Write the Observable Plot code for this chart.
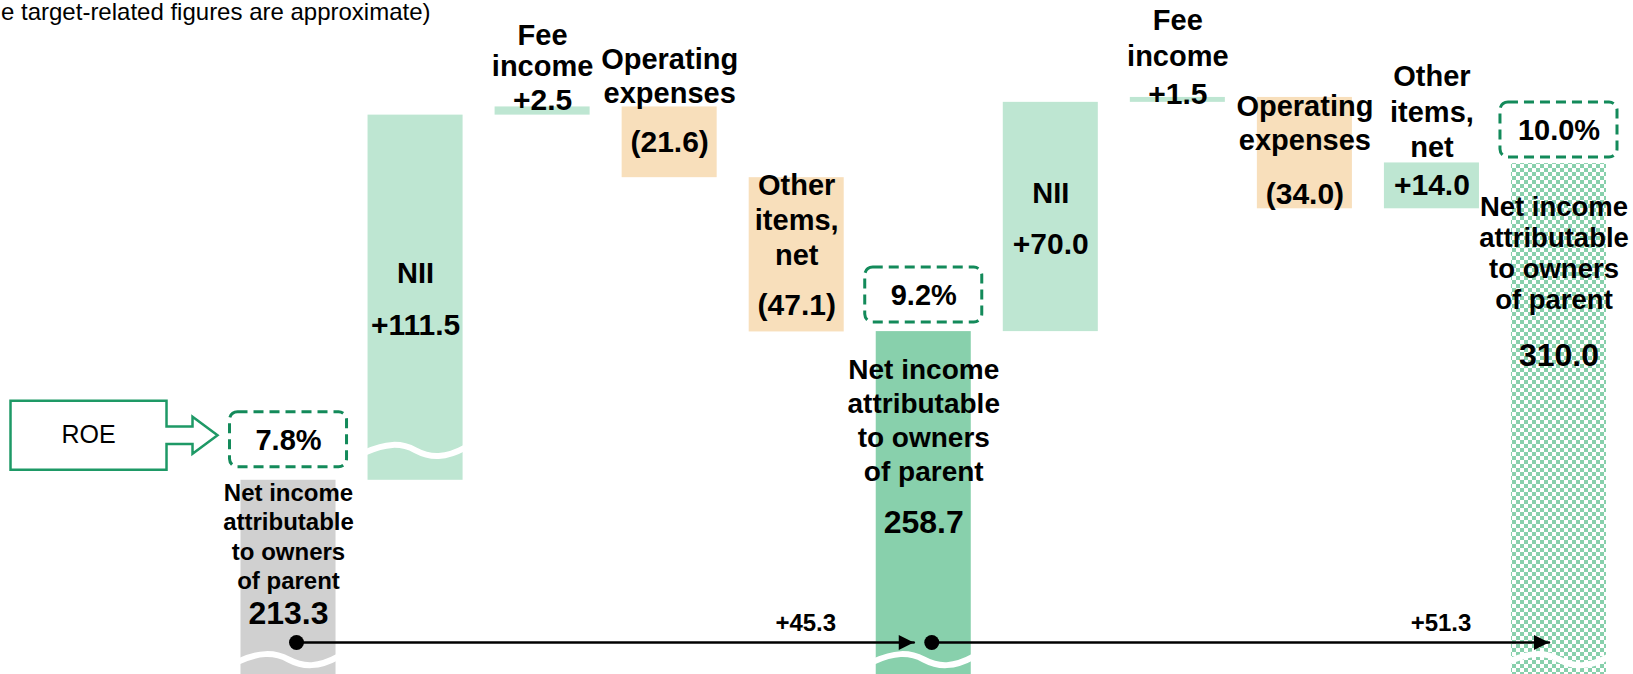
<!DOCTYPE html>
<html>
<head>
<meta charset="utf-8">
<script src="https://cdn.jsdelivr.net/npm/d3@7"></script>
<script src="https://cdn.jsdelivr.net/npm/@observablehq/plot@0.6"></script>
<style>
html, body { margin: 0; padding: 0; background: #fff; }
#wrap { position: relative; width: 1633px; height: 674px; overflow: hidden; }
#sub { position: absolute; left: 1px; top: 0; font-family: "Liberation Sans", Arial, sans-serif; font-size: 24px; line-height: 24px; color: #000; white-space: nowrap; pointer-events: none; }
</style>
</head>
<body>
<svg width="0" height="0" style="position:absolute">
  <defs>
    <pattern id="checker" width="8" height="8" patternUnits="userSpaceOnUse">
      <rect width="8" height="8" fill="#ffffff"></rect>
      <rect width="4" height="4" fill="#88d0ac"></rect>
      <rect x="4" y="4" width="4" height="4" fill="#88d0ac"></rect>
    </pattern>
  </defs>
</svg>
<div id="wrap"><div id="chart"></div><div id="sub"></div></div>
<script>
// ---------- data ----------
const subtitle = "e target-related figures are approximate)";
const categories = ["base", "nii1", "fee1", "opex1", "other1", "mid", "nii2", "fee2", "opex2", "other2", "target"];
const kinds = ["total", "delta", "delta", "delta", "delta", "total", "delta", "delta", "delta", "delta", "total"];
const values = [213.3, 111.5, 2.5, -21.6, -47.1, 258.7, 70.0, 1.5, -34.0, 14.0, 310.0];
const valueLabels = ["213.3", "+111.5", "+2.5", "(21.6)", "(47.1)", "258.7", "+70.0", "+1.5", "(34.0)", "+14.0", "310.0"];
const nameLabels = [
  ["Net income", "attributable", "to owners", "of parent"],
  ["NII"],
  ["Fee", "income"],
  ["Operating", "expenses"],
  ["Other", "items,", "net"],
  ["Net income", "attributable", "to owners", "of parent"],
  ["NII"],
  ["Fee", "income"],
  ["Operating", "expenses"],
  ["Other", "items,", "net"],
  ["Net income", "attributable", "to owners", "of parent"]
];
const roeLabels = ["7.8%", "9.2%", "10.0%"];
const growthLabels = ["+45.3", "+51.3"];
const calloutLabel = "ROE";
const brokenDeltas = ["nii1"];

// ---------- derived table ----------
const yDomain = [154, 359.8];
const lo = yDomain[0];
let level = 0;
const rows = categories.map((key, i) => {
  const v = values[i];
  let y1, y2;
  if (kinds[i] === "total") { y1 = lo; y2 = v; level = v; }
  else { y1 = level; y2 = level + v; level = y2; }
  return {key, kind: kinds[i], value: v, y1, y2,
    top: Math.max(y1, y2), bottom: Math.min(y1, y2), mid: (y1 + y2) / 2,
    name: nameLabels[i], label: valueLabels[i]};
});
const totals = rows.filter(d => d.kind === "total");
const growth = growthLabels.map((label, i) => ({from: totals[i].key, to: totals[i + 1].key, label}));

// ---------- styles ----------
const totalFills = ["#d0d0d0", "#88d0ac", "url(#checker)"];
const fillOf = d => d.kind === "total" ? totalFills[totals.indexOf(d)] : (d.value >= 0 ? "#bee6d2" : "#f8dfbb");
const boxGaps = [13, 9, 6];
const textLayout = {
  base:   {name: {at: "top", dy: 13, lh: 29.5, fs: 24, dx: 0}, value: {at: "top", dy: 133, fs: 32}},
  nii1:   {name: {at: "mid", dy: -24, lh: 0, fs: 29}, value: {at: "mid", dy: 28, fs: 30}},
  fee1:   {name: {at: "top", dy: -71, lh: 31, fs: 29}, value: {at: "top", dy: -7, fs: 30}},
  opex1:  {name: {at: "top", dy: -47, lh: 34, fs: 29}, value: {at: "mid", dy: 0, fs: 30}},
  other1: {name: {at: "top", dy: 8, lh: 35, fs: 29}, value: {at: "bottom", dy: -27, fs: 30}},
  mid:    {name: {at: "top", dy: 38, lh: 34, fs: 28, dx: 0}, value: {at: "top", dy: 191, fs: 32}},
  nii2:   {name: {at: "mid", dy: -23, lh: 0, fs: 29}, value: {at: "mid", dy: 27, fs: 30}},
  fee2:   {name: {at: "top", dy: -77, lh: 36, fs: 29}, value: {at: "top", dy: -3, fs: 30}},
  opex2:  {name: {at: "top", dy: 9, lh: 34, fs: 29}, value: {at: "bottom", dy: -14, fs: 30}},
  other2: {name: {at: "top", dy: -86, lh: 35.5, fs: 29}, value: {at: "mid", dy: 0, fs: 30}},
  target: {name: {at: "top", dy: 44, lh: 31, fs: 27.5, dx: -5}, value: {at: "top", dy: 192, fs: 32}}
};

const waveShape = {draw(ctx) {
  ctx.moveTo(-50, 2);
  ctx.bezierCurveTo(-30, -7, -15, -8, 0, 0);
  ctx.bezierCurveTo(15, 8, 30, 8, 50, -3);
}};
const triShape = {draw(ctx) {
  ctx.moveTo(0, 0); ctx.lineTo(-15, -7.5); ctx.lineTo(-15, 7.5); ctx.closePath();
}};
const calloutShape = {draw(ctx) {
  ctx.moveTo(-278, -34.5); ctx.lineTo(-122, -34.5); ctx.lineTo(-122, -8.7);
  ctx.lineTo(-96, -8.7); ctx.lineTo(-96, -18.5); ctx.lineTo(-71, 0);
  ctx.lineTo(-96, 18.5); ctx.lineTo(-96, 8.7); ctx.lineTo(-122, 8.7);
  ctx.lineTo(-122, 34.5); ctx.lineTo(-278, 34.5); ctx.closePath();
}};

const textMarks = [];
for (const d of rows) {
  const L = textLayout[d.key];
  d.name.forEach((t, j) => {
    textMarks.push(Plot.text([d], {x: "key", y: L.name.at, text: () => t, dy: L.name.dy + j * L.name.lh,
      dx: L.name.dx || 0, fontSize: L.name.fs, fontWeight: "bold", fill: "#000"}));
  });
  textMarks.push(Plot.text([d], {x: "key", y: L.value.at, text: "label", dy: L.value.dy,
    fontSize: L.value.fs, fontWeight: "bold", fill: "#000"}));
}

const boxMarks = totals.flatMap((d, i) => [
  Plot.barY([d], {x: "key", y1: "value", y2: "value", insetTop: -(boxGaps[i] + 55), insetBottom: boxGaps[i],
    insetLeft: -11, insetRight: -11, rx: 8, fill: "white", stroke: "#138a5a", strokeWidth: 3, strokeDasharray: "10,6"}),
  Plot.text([d], {x: "key", y: "value", dy: -(boxGaps[i] + 27.5) + 1, text: () => roeLabels[i],
    fontSize: 29, fontWeight: "bold", fill: "#000"})
]);

const chart = Plot.plot({
  width: 1633,
  height: 674,
  marginLeft: 240.5,
  marginRight: 27,
  marginTop: 0,
  marginBottom: 0,
  x: {domain: categories, type: "band", paddingInner: 0.252, paddingOuter: 0, round: false, axis: null},
  y: {domain: yDomain, axis: null},
  color: {type: "identity"},
  style: {fontFamily: "'Liberation Sans', Arial, sans-serif", background: "transparent"},
  marks: [
    Plot.barY(rows, {x: "key", y1: "y1", y2: "y2", fill: fillOf}),
    Plot.dot(totals, {x: "key", frameAnchor: "bottom", dy: -15, symbol: waveShape, r: 10, fill: "none", stroke: "white", strokeWidth: 6}),
    Plot.dot(rows.filter(d => brokenDeltas.includes(d.key)), {x: "key", y: "bottom", dy: -30, symbol: waveShape, r: 10, fill: "none", stroke: "white", strokeWidth: 6}),
    ...boxMarks,
    Plot.dot([totals[0]], {x: "key", y: "value", dy: -45, symbol: calloutShape, r: 10, fill: "white", stroke: "#1e9966", strokeWidth: 2.5}),
    Plot.text([totals[0]], {x: "key", y: "value", dy: -45, dx: -200, text: () => calloutLabel, fontSize: 25, fill: "#000"}),
    ...textMarks,
    Plot.arrow(growth, {x1: "from", x2: "to", y1: () => lo, y2: () => lo, dy: -32, bend: 0, headLength: 0,
      insetStart: 8, insetEnd: 10, stroke: "#000", strokeWidth: 2.5}),
    Plot.dot(growth, {x: "from", y: () => lo, dy: -32, dx: 8, r: 7.5, fill: "#000", stroke: "none"}),
    Plot.dot(growth, {x: "to", y: () => lo, dy: -32, dx: -10, symbol: triShape, r: 5, fill: "#000", stroke: "none"}),
    Plot.text(growth, {x: "to", y: () => lo, dy: -51, dx: -118, text: "label", fontSize: 24, fontWeight: "bold", fill: "#000"})
  ]
});
document.getElementById("chart").append(chart);
document.getElementById("sub").textContent = subtitle;
</script>
</body>
</html>
